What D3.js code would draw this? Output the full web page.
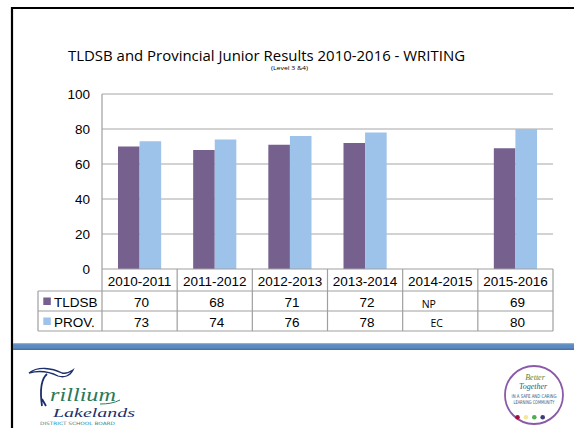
<!DOCTYPE html>
<html>
<head>
<meta charset="utf-8">
<script src="https://cdn.jsdelivr.net/npm/d3@7"></script>
<style>
  body { margin: 0; background: #fff; }
  svg { display: block; }
</style>
</head>
<body>
<div id="chart"></div>
<script>
// chart values
var categories = ["2010-2011", "2011-2012", "2012-2013", "2013-2014", "2014-2015", "2015-2016"];
var seriesNames = ["TLDSB", "PROV."];
var tldsbValues = [70, 68, 71, 72, null, 69];
var provValues = [73, 74, 76, 78, null, 80];
var tldsbLabels = ["70", "68", "71", "72", "NP", "69"];
var provLabels = ["73", "74", "76", "78", "EC", "80"];
var yTicks = [0, 20, 40, 60, 80, 100];

var W = 574, H = 428;
var colors = ["#76608e", "#9ec3ea"];
var gridColor = "#a6a6a6";
var axisFont = "Liberation Sans, Arial, sans-serif";

var svg = d3.select("#chart").append("svg")
    .attr("width", W)
    .attr("height", H);

// slide frame
svg.append("path")
    .attr("d", "M12,428 L12,8 L574,8")
    .attr("fill", "none")
    .attr("stroke", "#000")
    .attr("stroke-width", 2.2);

// title
svg.append("text")
    .attr("x", 266.5)
    .attr("y", 60.5)
    .attr("text-anchor", "middle")
    .style("font-family", "Open Sans, sans-serif")
    .style("font-size", "14.5px")
    .attr("textLength", 397)
    .attr("lengthAdjust", "spacingAndGlyphs")
    .attr("fill", "#000")
    .text("TLDSB and Provincial Junior Results 2010-2016 - WRITING");

svg.append("text")
    .attr("x", 289.5)
    .attr("y", 69.5)
    .attr("text-anchor", "middle")
    .attr("textLength", 37)
    .attr("lengthAdjust", "spacingAndGlyphs")
    .style("font-family", "Open Sans, sans-serif")
    .style("font-size", "6px")
    .attr("fill", "#000")
    .text("(Level 3 &4)");

var plot = {left: 102, right: 553, top: 94, bottom: 269};

var x = d3.scaleBand()
    .domain(categories)
    .range([plot.left, plot.right]);

var x1 = d3.scaleBand()
    .domain(seriesNames)
    .range([16, x.bandwidth() - 16]);

var y = d3.scaleLinear()
    .domain([0, 100])
    .range([plot.bottom, plot.top]);

// gridlines
svg.append("g")
    .selectAll("line")
    .data(yTicks.filter(function (d) { return d > 0; }))
    .enter()
    .append("line")
    .attr("x1", plot.left)
    .attr("x2", plot.right)
    .attr("y1", function (d) { return y(d); })
    .attr("y2", function (d) { return y(d); })
    .attr("stroke", gridColor)
    .attr("stroke-width", 1);

// y axis labels
var yAxis = d3.axisLeft(y).tickValues(yTicks).tickSize(0).tickPadding(12);
var yg = svg.append("g")
    .attr("transform", "translate(" + plot.left + ",0)")
    .call(yAxis);
yg.select(".domain").remove();
yg.selectAll("text")
    .style("font-family", axisFont)
    .style("font-size", "13.5px")
    .attr("fill", "#000")
    .attr("dy", "0.36em");

// bars
var rows = categories.map(function (c, i) {
    return {cat: c, values: [tldsbValues[i], provValues[i]]};
});

var groups = svg.append("g")
    .selectAll("g")
    .data(rows)
    .enter()
    .append("g")
    .attr("transform", function (d) { return "translate(" + x(d.cat) + ",0)"; });

groups.selectAll("rect")
    .data(function (d) {
        return d.values.map(function (v, j) { return {name: seriesNames[j], value: v, idx: j}; })
            .filter(function (e) { return e.value != null; });
    })
    .enter()
    .append("rect")
    .attr("x", function (d) { return x1(d.name); })
    .attr("width", x1.bandwidth())
    .attr("y", function (d) { return y(d.value); })
    .attr("height", function (d) { return y(0) - y(d.value); })
    .attr("fill", function (d) { return colors[d.idx]; });

// data table
var rowTop = [269, 291, 311, 331];
var tableLeft = 38;
var table = svg.append("g").attr("stroke", "#9f9f9f").attr("stroke-width", 1.2).attr("fill", "none");

// vertical axis line continuing into table
table.append("line")
    .attr("x1", plot.left).attr("x2", plot.left)
    .attr("y1", plot.top).attr("y2", rowTop[3]);

// column separators
categories.forEach(function (c) {
    table.append("line")
        .attr("x1", x(c) + x.bandwidth()).attr("x2", x(c) + x.bandwidth())
        .attr("y1", rowTop[0]).attr("y2", rowTop[3]);
});
table.append("line")
    .attr("x1", tableLeft).attr("x2", tableLeft)
    .attr("y1", rowTop[1]).attr("y2", rowTop[3]);

// horizontal lines
table.append("line")
    .attr("x1", plot.left).attr("x2", plot.right)
    .attr("y1", rowTop[0]).attr("y2", rowTop[0]);
[1, 2, 3].forEach(function (r) {
    table.append("line")
        .attr("x1", tableLeft).attr("x2", plot.right)
        .attr("y1", rowTop[r]).attr("y2", rowTop[r]);
});

var tText = svg.append("g")
    .style("font-family", axisFont)
    .style("font-size", "13.5px")
    .attr("fill", "#000");

tText.selectAll("text.head")
    .data(categories)
    .enter()
    .append("text")
    .attr("class", "head")
    .attr("x", function (d) { return x(d) + x.bandwidth() / 2; })
    .attr("y", 286)
    .attr("text-anchor", "middle")
    .text(function (d) { return d; });

var labelRows = [tldsbLabels, provLabels];
var rowBase = [306.5, 327];
labelRows.forEach(function (labels, r) {
    tText.selectAll("text.val" + r)
        .data(labels)
        .enter()
        .append("text")
        .attr("class", "val" + r)
        .attr("x", function (d, i) {
            var cx = x(categories[i]) + x.bandwidth() / 2;
            if (d === "NP") return cx - 11.5;
            if (d === "EC") return cx - 3.5;
            return cx + 2;
        })
        .attr("y", function (d) { return (d === "NP" || d === "EC") ? rowBase[r] + (r === 0 ? 1.5 : -0.5) : rowBase[r]; })
        .attr("text-anchor", "middle")
        .style("font-family", function (d) { return (d === "NP" || d === "EC") ? "Open Sans, sans-serif" : axisFont; })
        .style("font-size", function (d) { return (d === "NP" || d === "EC") ? "10.5px" : "13.5px"; })
        .text(function (d) { return d; });

    svg.append("rect")
        .attr("x", 43.3)
        .attr("y", rowTop[r + 1] + 6.5)
        .attr("width", 7.5)
        .attr("height", 7.5)
        .attr("fill", colors[r]);

    tText.append("text")
        .attr("x", 54)
        .attr("y", rowBase[r])
        .text(seriesNames[r]);
});

// footer band
var band = svg.append("g");
band.append("rect").attr("x", 13).attr("y", 343).attr("width", W - 13).attr("height", 7).attr("fill", "#5a8bc3");
band.append("rect").attr("x", 13).attr("y", 343).attr("width", W - 13).attr("height", 1.2).attr("fill", "#9aaec8");
band.append("rect").attr("x", 13).attr("y", 348.5).attr("width", W - 13).attr("height", 1.5).attr("fill", "#4c73a3");

// Trillium Lakelands logo
var logo = svg.append("g");
logo.append("path")
    .attr("d", "M29,373 C38,366 52,368 62,373 C66,374 70,372 73,370 C70,376 64,378 58,376 C50,372 40,370 29,373 Z")
    .attr("fill", "none")
    .attr("stroke", "#1d2f6b")
    .attr("stroke-width", 1.3);
logo.append("path")
    .attr("d", "M47,374 C40,380 40,392 42,406 M42,399 L46,406")
    .attr("fill", "none")
    .attr("stroke", "#1d2f6b")
    .attr("stroke-width", 1.8);
logo.append("text")
    .attr("x", 50).attr("y", 401)
    .attr("textLength", 66).attr("lengthAdjust", "spacingAndGlyphs")
    .style("font-family", "Liberation Serif, serif")
    .style("font-style", "italic")
    .style("font-size", "18px")
    .attr("fill", "#2a7a5a")
    .text("rillium");
logo.append("path")
    .attr("d", "M100,404 C108,404 114,403 120,400")
    .attr("fill", "none").attr("stroke", "#2a7a5a").attr("stroke-width", 1);
logo.append("text")
    .attr("x", 53).attr("y", 417)
    .attr("textLength", 82).attr("lengthAdjust", "spacingAndGlyphs")
    .style("font-family", "Liberation Serif, serif")
    .style("font-style", "italic")
    .style("font-size", "13px")
    .attr("fill", "#1d2f6b")
    .text("Lakelands");
logo.append("text")
    .attr("x", 40).attr("y", 424.5)
    .attr("textLength", 75).attr("lengthAdjust", "spacingAndGlyphs")
    .style("font-family", "DejaVu Sans, sans-serif")
    .style("font-size", "4.5px")
    .attr("fill", "#2a8a9a")
    .text("DISTRICT SCHOOL BOARD");

// Better Together badge
var badge = svg.append("g");
badge.append("circle")
    .attr("cx", 534).attr("cy", 395).attr("r", 29)
    .attr("fill", "#fff")
    .attr("stroke", "#8a5aa8")
    .attr("stroke-width", 1.8);
badge.append("text")
    .attr("x", 535).attr("y", 380)
    .attr("text-anchor", "middle")
    .style("font-family", "Liberation Serif, serif")
    .style("font-style", "italic")
    .style("font-size", "8px")
    .attr("fill", "#3f8a4e")
    .text("Better");
badge.append("text")
    .attr("x", 533).attr("y", 388.5)
    .attr("text-anchor", "middle")
    .style("font-family", "Liberation Serif, serif")
    .style("font-style", "italic")
    .style("font-size", "8px")
    .attr("fill", "#2d5a86")
    .text("Together");
["IN A SAFE AND CARING", "LEARNING COMMUNITY"].forEach(function (t, i) {
    badge.append("text")
        .attr("x", 534).attr("y", 398 + i * 5.5)
        .attr("text-anchor", "middle")
        .attr("textLength", i === 0 ? 45 : 41)
        .attr("lengthAdjust", "spacingAndGlyphs")
        .style("font-family", "DejaVu Sans Condensed, sans-serif")
        .style("font-size", "5px")
        .attr("fill", "#2d5a86")
        .text(t);
});
["#a0103a", "#f4e79a", "#4caf50", "#3a3f7a"].forEach(function (c, i) {
    badge.append("circle")
        .attr("cx", 517.5 + i * 8.4).attr("cy", 417.3).attr("r", 2.3)
        .attr("fill", c);
});
</script>
</body>
</html>
